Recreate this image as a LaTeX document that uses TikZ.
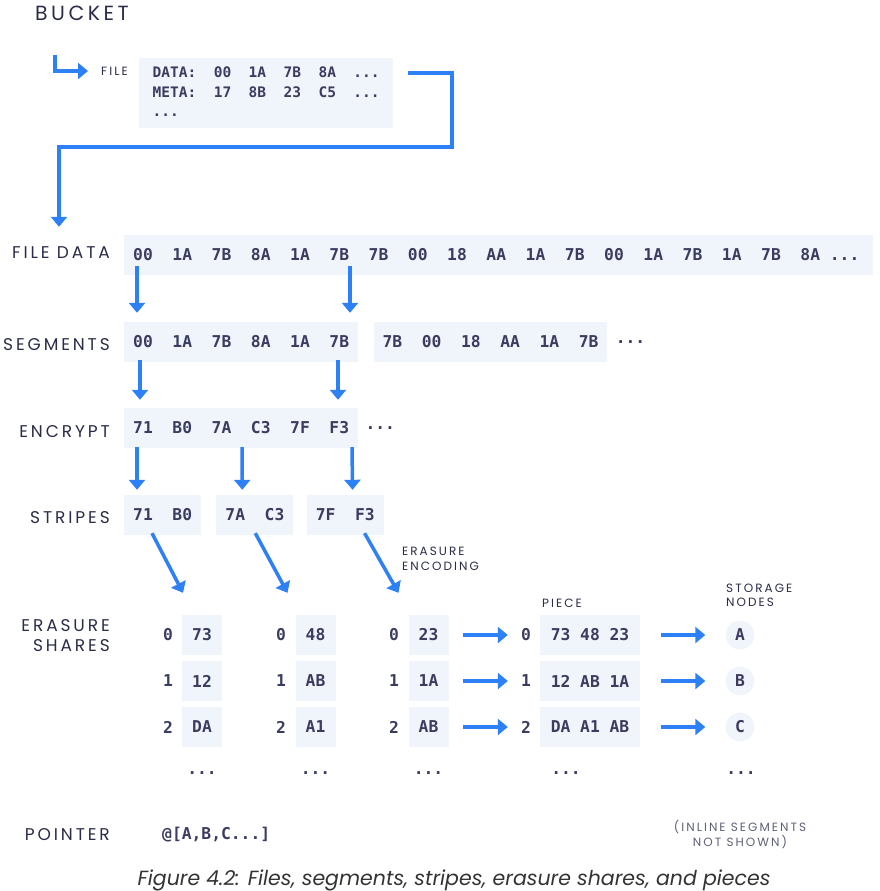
\documentclass[tikz,border=0pt]{standalone}
\usepackage{fontspec}
\setmainfont{Poppins}
\setmonofont{DejaVu Sans Mono}
\newfontfamily\capsfont[LetterSpace=17]{Poppins}
\usetikzlibrary{arrows.meta,positioning,calc}
\definecolor{ink}{RGB}{42,44,72}
\definecolor{hexc}{RGB}{58,60,96}
\definecolor{flowblue}{RGB}{45,128,245}
\definecolor{cellbg}{RGB}{240,245,251}
\newcommand{\hexfont}{\ttfamily\bfseries\fontsize{16.3}{19}\selectfont}

\begin{document}
\begin{tikzpicture}[x=1pt,y=1pt,
    lbl/.style={font=\capsfont\fontsize{17}{20}\selectfont, text=ink, anchor=east, inner sep=0pt},
    tag/.style={font=\capsfont\fontsize{12}{14.5}\selectfont, text=ink, align=left, anchor=west, inner sep=0pt},
    cell/.style={fill=cellbg, text=hexc, font=\hexfont, minimum height=40pt, inner xsep=9pt, inner ysep=0pt, anchor=west},
    share/.style={cell, anchor=center, minimum width=40pt, inner xsep=0pt},
    idx/.style={text=hexc, font=\hexfont, inner sep=0pt},
    store/.style={circle, fill=cellbg, text=hexc, font=\hexfont, minimum size=29pt, inner sep=0pt},
    flow/.style={draw=flowblue, line width=3.5pt, -{Triangle[length=10pt,width=16pt]}}]
    \useasboundingbox (0,0) rectangle (879,-891);
    % bucket and file
    \node[font=\capsfont\fontsize{20.5}{24}\selectfont, text=ink, anchor=west, inner sep=0pt] (bucket) at (35,-13) {BUCKET};
    \node[tag] (flab) at (101,-71) {FILE};
    \node[cell, anchor=north west, minimum height=70pt, minimum width=254pt, inner xsep=12pt,
          font=\ttfamily\bfseries\fontsize{14.5}{19.5}\selectfont] (file) at (139,-58)
          {\raisebox{-2.5pt}{\begin{tabular}{@{}l@{}}DATA:~~00~~1A~~7B~~8A~~...\\META:~~17~~8B~~23~~C5~~...\\...\end{tabular}}};
    \coordinate (hook) at (55,-55);
    \draw[flow] (hook) |- ($(flab.west)+(-13,0)$);
    % rows
    \node[lbl] (lfd) at (110,-253) {FILE DATA};
    \node[cell] (fd) at (124,-255)
          {\makebox[731pt][l]{00~~1A~~7B~~8A~~1A~~7B~~7B~~00~~18~~AA~~1A~~7B~~00~~1A~~7B~~1A~~7B~~8A~...}};
    \draw[flow] ($(file.north east)+(15,-15)$) -| (452,-147) -| ($(fd.north west)+(-65,8)$);
    \node[lbl] (lseg) at (110,-345) {SEGMENTS};
    \node[cell] (seg1) at (124,-342) {00~~1A~~7B~~8A~~1A~~7B};
    \node[cell, right=15pt of seg1] (seg2) {7B~~00~~18~~AA~~1A~~7B};
    \node[idx, right=8pt of seg2] (segdots) {...};
    \node[lbl] (lenc) at (110,-432) {ENCRYPT};
    \node[cell] (enc) at (124,-428) {71~~B0~~7A~~C3~~7F~~F3};
    \node[idx, right=7pt of enc] (encdots) {...};
    \node[lbl] (lst) at (110,-518) {STRIPES};
    \node[cell] (st1) at (124,-515) {71~~B0};
    \node[cell, right=15pt of st1] (st2) {7A~~C3};
    \node[cell, right=13pt of st2] (st3) {7F~~F3};
    \node[tag] (lenco) at (402,-559) {ERASURE\\ENCODING};
    \node[lbl, align=right] (lsh) at (110,-636) {ERASURE\\SHARES};
    \node[tag] (lpiece) at (542,-603) {PIECE};
    \node[tag] (lnodes) at (726,-595.5) {STORAGE\\NODES};
    % shares, pieces, storage nodes
    \foreach \rw/\y/\va/\vb/\vc/\vn in {0/-635/73/48/23/A, 1/-681/12/AB/1A/B, 2/-727/DA/A1/AB/C} {
        \node[idx] (i0\rw) at (168,\y) {\rw};
        \node[share] (s0\rw) at (202,\y) {\va};
        \node[idx] (i1\rw) at (281,\y) {\rw};
        \node[share] (s1\rw) at (315.5,\y) {\vb};
        \node[idx] (i2\rw) at (394,\y) {\rw};
        \node[share] (s2\rw) at (428.5,\y) {\vc};
        \node[idx] (ip\rw) at (526,\y) {\rw};
        \node[cell, anchor=center, minimum width=100pt, inner xsep=0pt] (p\rw) at (590,\y) {\va~\vb~\vc};
        \node[store] (n\rw) at (740,\y) {\vn};
        \draw[flow] ($(s2\rw.east)+(14,0)$) -- ($(p\rw.west)+(-32,0)$);
        \draw[flow] ($(p\rw.east)+(21,0)$) -- ($(n\rw.west)+(-20,0)$);
    }
    \foreach \x in {202,315.5,428.5,566,741}
        \node[idx] at (\x,-773) {...};
    % arrows between rows
    \draw[flow] ($(fd.south west)+(13,9)$) -- ($(seg1.north west)+(13,9)$);
    \draw[flow] ($(fd.south west)+(226,9)$) -- ($(seg1.north west)+(226,9)$);
    \draw[flow] ($(seg1.south west)+(16,2)$) -- ($(enc.north west)+(16,8)$);
    \draw[flow] ($(seg1.south west)+(214,2)$) -- ($(enc.north west)+(214,8)$);
    \draw[flow] ($(enc.south west)+(13,1)$) -- ($(st1.north west)+(13,5)$);
    \draw[flow] ($(enc.south west)+(118,1)$) -- ($(st2.north west)+(26,5)$);
    \draw[flow] ($(enc.south west)+(228,1)$) -- ($(st3.north west)+(46,5)$);
    \draw[flow] ($(st1.south west)+(28,2)$) -- ($(s00.north)+(-19,22)$);
    \draw[flow] ($(st2.south west)+(39,2)$) -- ($(s10.north)+(-28,22)$);
    \draw[flow] ($(st3.south west)+(58,2)$) -- ($(s20.north)+(-30,22)$);
    % pointer and caption
    \node[lbl] (lptr) at (110,-835) {POINTER};
    \node[idx, anchor=west] (ptr) at (162,-835) {@[A,B,C...]};
    \node[tag, align=center, anchor=center, text=ink!75] (note) at (740,-834.5) {(INLINE SEGMENTS\\NOT SHOWN)};
    \node[font=\itshape\fontsize{20.5}{24}\selectfont, text=black!80] (cap) at (454,-880)
          {Figure 4.2: Files, segments, stripes, erasure shares, and pieces};
\end{tikzpicture}
\end{document}
